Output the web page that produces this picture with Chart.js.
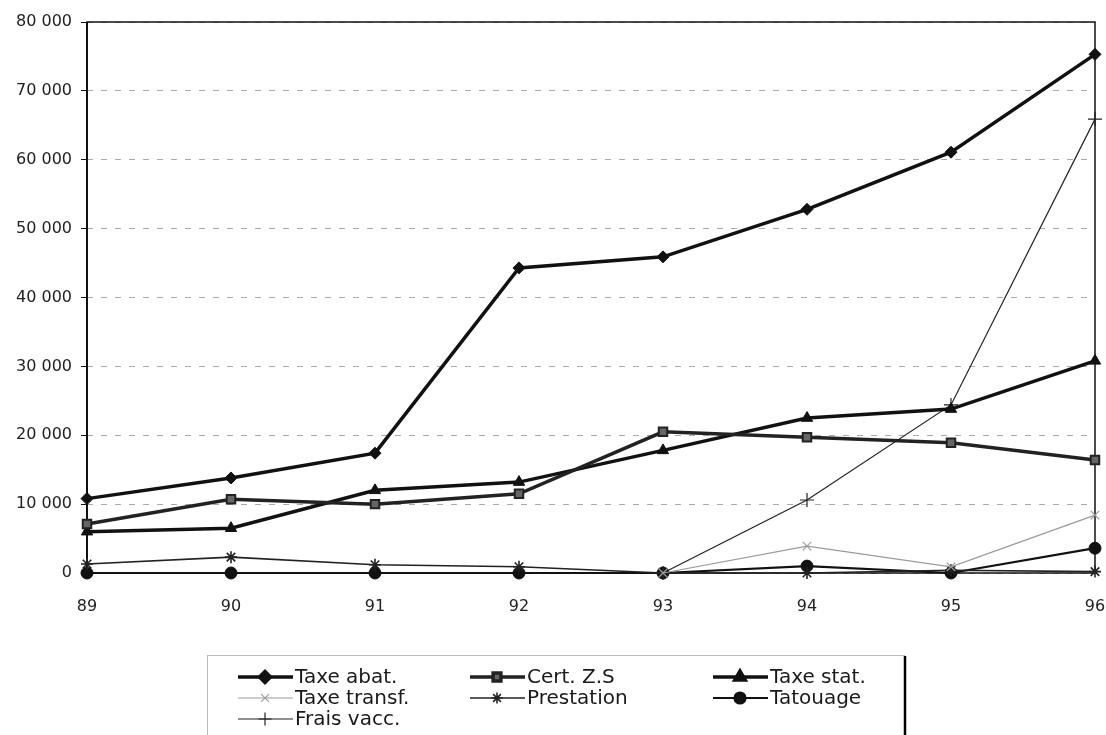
<!DOCTYPE html>
<html>
<head>
<meta charset="utf-8">
<script src="https://cdn.jsdelivr.net/npm/chart.js@4.4.1/dist/chart.umd.min.js"></script>
<style>
html,body{margin:0;padding:0;background:#fff;}
#wrap{position:relative;width:1106px;height:735px;}
</style>
</head>
<body>
<div id="wrap"><canvas id="c"></canvas></div>
<script>
const years = ['89','90','91','92','93','94','95','96'];
const yTickValues = [0,10000,20000,30000,40000,50000,60000,70000,80000];
const seriesNames = ['Taxe abat.','Cert. Z.S','Taxe stat.','Taxe transf.','Prestation','Tatouage','Frais vacc.'];
const taxeAbat   = [10800,13800,17400,44300,45900,52800,61100,75300];
const certZS     = [7100,10700,10000,11500,20500,19700,18900,16400];
const taxeStat   = [6000,6500,12000,13200,17800,22500,23800,30800];
const taxeTransf = [null,null,null,null,0,3900,900,8400];
const prestation = [1300,2300,1200,900,0,0,400,200];
const tatouage   = [0,0,0,0,0,1000,0,3600];
const fraisVacc  = [null,null,null,null,0,10600,24400,65900];

const FONT = '"DejaVu Sans", sans-serif';
Chart.defaults.font.family = FONT;
Chart.defaults.color = '#222';

function fmt(v){ return String(v).replace(/\B(?=(\d{3})+(?!\d))/g,' '); }

const styles = [
  {borderColor:'#111', backgroundColor:'#111', borderWidth:3.5, pointStyle:'rectRot', pointRadius:6, pointBorderWidth:1},
  {borderColor:'#222', backgroundColor:'#666', borderWidth:3.5, pointStyle:'rect', pointRadius:6, pointBorderWidth:2},
  {borderColor:'#111', backgroundColor:'#111', borderWidth:3.5, pointStyle:'triangle', pointRadius:6.5, pointBorderWidth:1},
  {borderColor:'#9a9a9a', backgroundColor:'#9a9a9a', borderWidth:1.2, pointStyle:'crossRot', pointRadius:6, pointBorderWidth:1.2},
  {borderColor:'#222', backgroundColor:'#222', borderWidth:1.6, pointStyle:'star', pointRadius:6, pointBorderWidth:1.6},
  {borderColor:'#111', backgroundColor:'#111', borderWidth:2.2, pointStyle:'circle', pointRadius:6, pointBorderWidth:1},
  {borderColor:'#222', backgroundColor:'#222', borderWidth:1.2, pointStyle:'cross', pointRadius:7, pointBorderWidth:1.2}
];
const values = [taxeAbat, certZS, taxeStat, taxeTransf, prestation, tatouage, fraisVacc];

const datasets = seriesNames.map((n,i)=>Object.assign({
  label:n, data:values[i], tension:0, spanGaps:false, clip:false,
  pointHoverRadius: styles[i].pointRadius
}, styles[i], {pointBackgroundColor: styles[i].backgroundColor, pointBorderColor: styles[i].borderColor}));

const framePlugin = {
  id:'frame',
  beforeDatasetsDraw(chart){
    const {ctx, chartArea:a} = chart;
    ctx.save();
    ctx.strokeStyle = '#111';
    ctx.lineWidth = 1.5;
    ctx.strokeRect(a.left, a.top, a.right - a.left, a.bottom - a.top);
    ctx.lineWidth = 2;
    ctx.beginPath(); ctx.moveTo(a.left, a.top); ctx.lineTo(a.left, a.bottom); ctx.stroke();
    ctx.restore();
  }
};

const legendPlugin = {
  id:'boxLegend',
  afterDraw(chart){
    const ctx = chart.ctx;
    ctx.save();
    ctx.strokeStyle = '#bbb'; ctx.lineWidth = 1;
    ctx.beginPath(); ctx.moveTo(207,655.5); ctx.lineTo(905,655.5); ctx.stroke();
    ctx.beginPath(); ctx.moveTo(207.5,655); ctx.lineTo(207.5,735); ctx.stroke();
    ctx.strokeStyle = '#000'; ctx.lineWidth = 2.5;
    ctx.beginPath(); ctx.moveTo(905,656); ctx.lineTo(905,735); ctx.stroke();
    const cols = [238, 470, 713];
    const rows = [677, 698, 719];
    ctx.font = '20px ' + FONT;
    ctx.textBaseline = 'middle';
    chart.data.datasets.forEach((ds,i)=>{
      const x = cols[i%3], y = rows[Math.floor(i/3)];
      ctx.strokeStyle = ds.borderColor;
      ctx.lineWidth = ds.borderWidth;
      ctx.beginPath(); ctx.moveTo(x,y); ctx.lineTo(x+55,y); ctx.stroke();
      ctx.fillStyle = ds.pointBackgroundColor;
      ctx.strokeStyle = ds.pointBorderColor;
      Chart.helpers.drawPoint(ctx, {pointStyle:ds.pointStyle, radius:ds.pointRadius-0.5, rotation:0, borderWidth:ds.pointBorderWidth}, x+27, y);
      ctx.fillStyle = '#1a1a1a';
      ctx.fillText(ds.label, x+57, y+1);
    });
    ctx.restore();
  }
};

new Chart(document.getElementById('c'), {
  type:'line',
  data:{labels:years, datasets},
  options:{
    responsive:true, maintainAspectRatio:false, animation:false,
    devicePixelRatio:1,
    layout:{padding:{top:22, right:11, left:0, bottom:0}},
    plugins:{legend:{display:false}, tooltip:{enabled:false}},
    scales:{
      x:{
        offset:false,
        grid:{display:false, drawTicks:false},
        border:{display:false},
        ticks:{font:{size:16}, color:'#222', padding:24, maxRotation:0},
        afterFit(s){ s.height = 162; s.paddingLeft = 0; s.paddingRight = 0; }
      },
      y:{
        min:0, max:80000,
        afterBuildTicks(s){ s.ticks = yTickValues.map(v=>({value:v})); },
        grid:{color:'#aaa', lineWidth:1, drawTicks:true, tickLength:6, tickColor:'#111'},
        border:{display:false, dash:[6,8]},
        ticks:{font:{size:16}, color:'#222', padding:9, callback:(v)=>fmt(v)},
        afterFit(s){ s.width = 87; }
      }
    }
  },
  plugins:[framePlugin, legendPlugin]
});
</script>
</body>
</html>
